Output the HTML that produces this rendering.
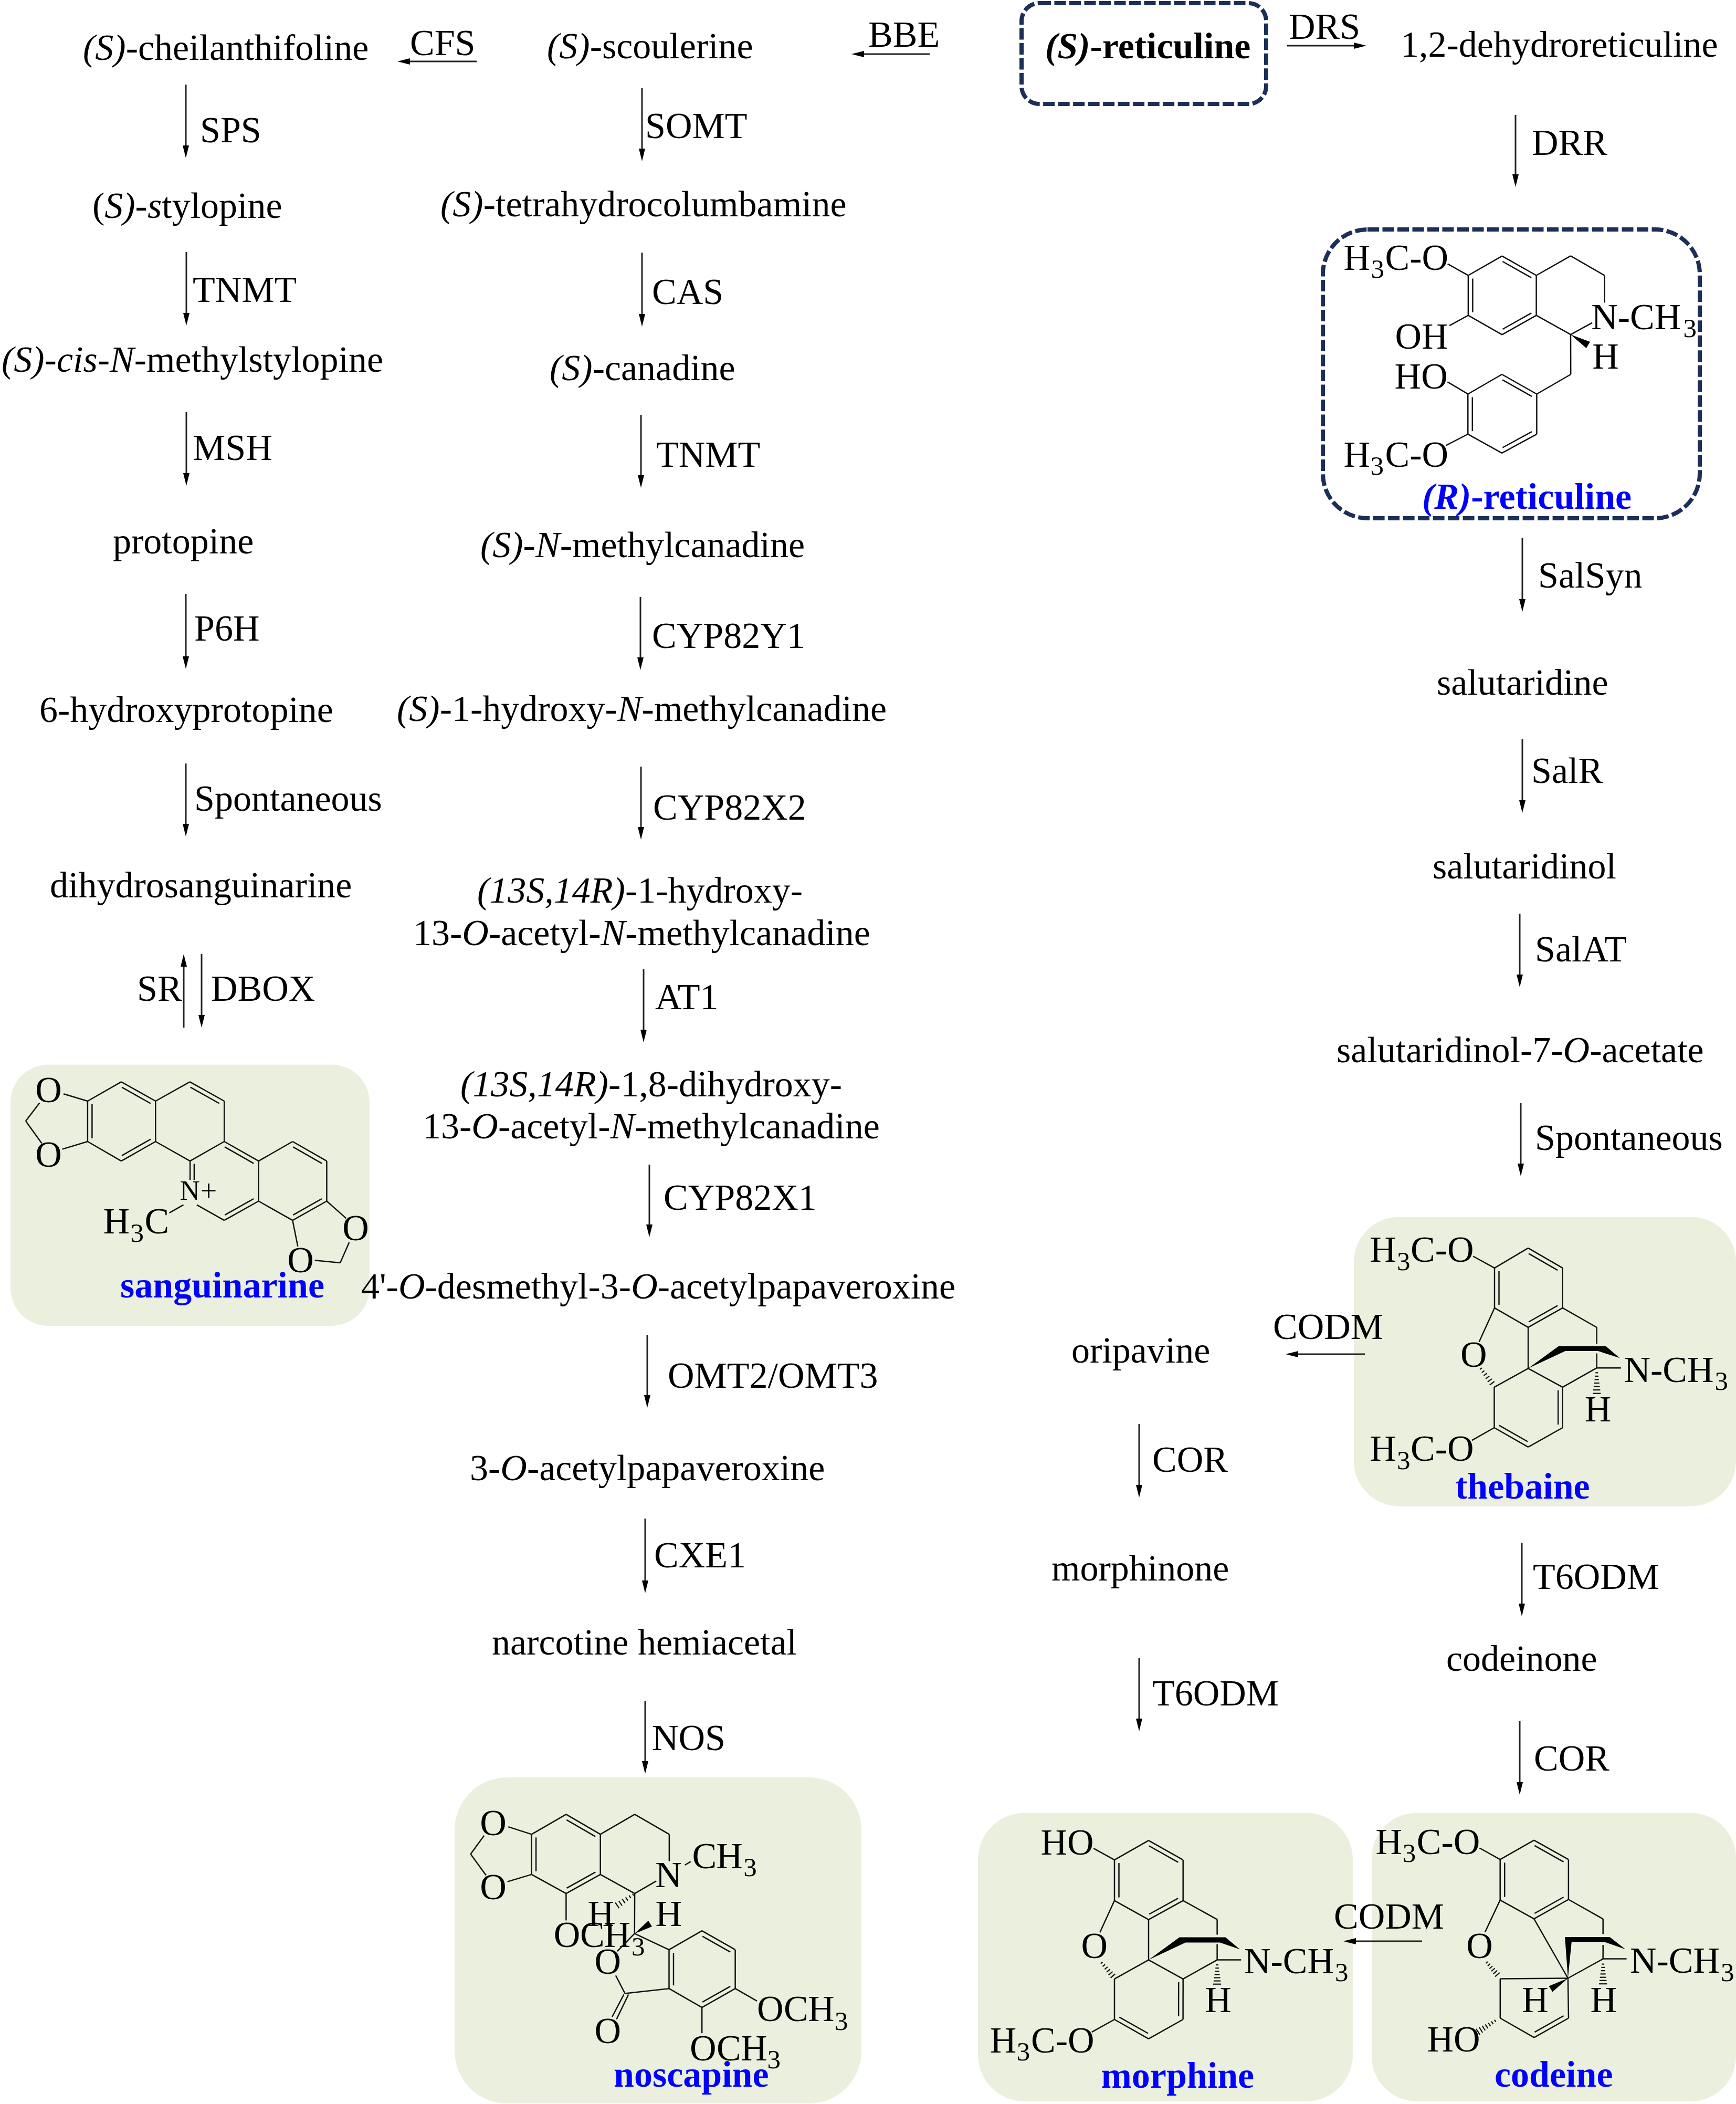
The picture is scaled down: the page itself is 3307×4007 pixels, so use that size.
<!DOCTYPE html>
<html><head><meta charset="utf-8"><style>
html,body{margin:0;padding:0;background:#fff;overflow:hidden}
svg{display:block}
text{font-family:"Liberation Serif",serif}
</style></head><body>
<svg width="3307" height="4007" viewBox="0 0 3307 4007">
<rect width="3307" height="4007" fill="#fff"/>
<rect x="20" y="2027.5" width="684" height="497.5" rx="72" ry="72" fill="#ebf0de"/>
<rect x="866" y="3385" width="775" height="621" rx="100" ry="100" fill="#ebf0de"/>
<rect x="2579" y="2317.5" width="728" height="551.0" rx="86" ry="86" fill="#ebf0de"/>
<rect x="1863" y="3452.5" width="714" height="549.5" rx="89" ry="89" fill="#ebf0de"/>
<rect x="2613" y="3452.5" width="694" height="549.5" rx="86" ry="86" fill="#ebf0de"/>
<rect x="1946" y="6" width="466" height="192" rx="34" ry="34" fill="none" stroke="#1b2f58" stroke-width="8" stroke-dasharray="22 6.5"/>
<rect x="2520" y="437" width="718" height="550" rx="85" ry="85" fill="none" stroke="#1b2f58" stroke-width="8" stroke-dasharray="22 6.5"/>
<text x="158.0" y="114.0" font-size="70" fill="#000"><tspan font-style="italic">(S)</tspan><tspan>-cheilanthifoline</tspan></text>
<line x1="354" y1="161" x2="354" y2="279" stroke="#222" stroke-width="3"/>
<path d="M348 277 L360 277 L354 301 Z" fill="#000"/>
<text x="381.0" y="271.0" font-size="70" fill="#000"><tspan>SPS</tspan></text>
<text x="176.0" y="415.0" font-size="70" fill="#000"><tspan>(</tspan><tspan font-style="italic">S)-s</tspan><tspan>tylopine</tspan></text>
<line x1="355" y1="480" x2="355" y2="598" stroke="#222" stroke-width="3"/>
<path d="M349 596 L361 596 L355 620 Z" fill="#000"/>
<text x="367.0" y="575.0" font-size="70" fill="#000"><tspan>TNMT</tspan></text>
<text x="3.0" y="708.0" font-size="70" fill="#000"><tspan font-style="italic">(S)-cis-N-</tspan><tspan>methylstylopine</tspan></text>
<line x1="355" y1="785" x2="355" y2="903" stroke="#222" stroke-width="3"/>
<path d="M349 901 L361 901 L355 925 Z" fill="#000"/>
<text x="367.0" y="876.0" font-size="70" fill="#000"><tspan>MSH</tspan></text>
<text x="215.0" y="1054.0" font-size="70" fill="#000"><tspan>protopine</tspan></text>
<line x1="354" y1="1131" x2="354" y2="1252" stroke="#222" stroke-width="3"/>
<path d="M348 1250 L360 1250 L354 1274 Z" fill="#000"/>
<text x="370.0" y="1220.0" font-size="70" fill="#000"><tspan>P6H</tspan></text>
<text x="75.0" y="1375.0" font-size="70" fill="#000"><tspan>6-hydroxyprotopine</tspan></text>
<line x1="354" y1="1454" x2="354" y2="1571" stroke="#222" stroke-width="3"/>
<path d="M348 1569 L360 1569 L354 1593 Z" fill="#000"/>
<text x="370.0" y="1544.0" font-size="70" fill="#000"><tspan>Spontaneous</tspan></text>
<text x="95.0" y="1709.0" font-size="70" fill="#000"><tspan>dihydrosanguinarine</tspan></text>
<line x1="350" y1="1839" x2="350" y2="1957" stroke="#222" stroke-width="3"/>
<path d="M344 1841 L356 1841 L350 1817 Z" fill="#000"/>
<line x1="384" y1="1817" x2="384" y2="1935" stroke="#222" stroke-width="3"/>
<path d="M378 1933 L390 1933 L384 1957 Z" fill="#000"/>
<text x="261.0" y="1906.0" font-size="70" fill="#000"><tspan>SR</tspan></text>
<text x="402.0" y="1906.0" font-size="70" fill="#000"><tspan>DBOX</tspan></text>
<line x1="779" y1="117" x2="908" y2="117" stroke="#222" stroke-width="3"/>
<path d="M781 111 L781 123 L757 117 Z" fill="#000"/>
<text x="781.0" y="105.0" font-size="70" fill="#000"><tspan>CFS</tspan></text>
<line x1="1644" y1="103" x2="1771" y2="103" stroke="#222" stroke-width="3"/>
<path d="M1646 97 L1646 109 L1622 103 Z" fill="#000"/>
<text x="1654.0" y="89.0" font-size="70" fill="#000"><tspan>BBE</tspan></text>
<line x1="2452" y1="87" x2="2581" y2="87" stroke="#222" stroke-width="3"/>
<path d="M2579 81 L2579 93 L2603 87 Z" fill="#000"/>
<text x="2455.0" y="74.0" font-size="70" fill="#000"><tspan>DRS</tspan></text>
<text x="1042.0" y="111.0" font-size="70" fill="#000"><tspan font-style="italic">(S)</tspan><tspan>-scoulerine</tspan></text>
<line x1="1223" y1="168" x2="1223" y2="285" stroke="#222" stroke-width="3"/>
<path d="M1217 283 L1229 283 L1223 307 Z" fill="#000"/>
<text x="1229.0" y="263.0" font-size="70" fill="#000"><tspan>SOMT</tspan></text>
<text x="839.0" y="412.0" font-size="70" fill="#000"><tspan font-style="italic">(S)</tspan><tspan>-tetrahydrocolumbamine</tspan></text>
<line x1="1223" y1="481" x2="1223" y2="600" stroke="#222" stroke-width="3"/>
<path d="M1217 598 L1229 598 L1223 622 Z" fill="#000"/>
<text x="1242.0" y="579.0" font-size="70" fill="#000"><tspan>CAS</tspan></text>
<text x="1047.0" y="724.0" font-size="70" fill="#000"><tspan font-style="italic">(S)</tspan><tspan>-canadine</tspan></text>
<line x1="1221" y1="790" x2="1221" y2="907" stroke="#222" stroke-width="3"/>
<path d="M1215 905 L1227 905 L1221 929 Z" fill="#000"/>
<text x="1250.0" y="889.0" font-size="70" fill="#000"><tspan>TNMT</tspan></text>
<text x="915.0" y="1061.0" font-size="70" fill="#000"><tspan font-style="italic">(S)-N</tspan><tspan>-methylcanadine</tspan></text>
<line x1="1220" y1="1137" x2="1220" y2="1254" stroke="#222" stroke-width="3"/>
<path d="M1214 1252 L1226 1252 L1220 1276 Z" fill="#000"/>
<text x="1242.0" y="1234.0" font-size="70" fill="#000"><tspan>CYP82Y1</tspan></text>
<text x="756.0" y="1373.0" font-size="70" fill="#000"><tspan font-style="italic">(S)</tspan><tspan>-1-hydroxy-</tspan><tspan font-style="italic">N</tspan><tspan>-methylcanadine</tspan></text>
<line x1="1221" y1="1460" x2="1221" y2="1577" stroke="#222" stroke-width="3"/>
<path d="M1215 1575 L1227 1575 L1221 1599 Z" fill="#000"/>
<text x="1244.0" y="1561.0" font-size="70" fill="#000"><tspan>CYP82X2</tspan></text>
<text x="909.0" y="1719.0" font-size="70" fill="#000"><tspan font-style="italic">(13S,14R)</tspan><tspan>-1-hydroxy-</tspan></text>
<text x="787.0" y="1800.0" font-size="70" fill="#000"><tspan>13-</tspan><tspan font-style="italic">O</tspan><tspan>-acetyl-</tspan><tspan font-style="italic">N</tspan><tspan>-methylcanadine</tspan></text>
<line x1="1226" y1="1846" x2="1226" y2="1963" stroke="#222" stroke-width="3"/>
<path d="M1220 1961 L1232 1961 L1226 1985 Z" fill="#000"/>
<text x="1248.0" y="1922.0" font-size="70" fill="#000"><tspan>AT1</tspan></text>
<text x="877.0" y="2088.0" font-size="70" fill="#000"><tspan font-style="italic">(13S,14R)</tspan><tspan>-1,8-dihydroxy-</tspan></text>
<text x="805.0" y="2168.0" font-size="70" fill="#000"><tspan>13-</tspan><tspan font-style="italic">O</tspan><tspan>-acetyl-</tspan><tspan font-style="italic">N</tspan><tspan>-methylcanadine</tspan></text>
<line x1="1237" y1="2218" x2="1237" y2="2334" stroke="#222" stroke-width="3"/>
<path d="M1231 2332 L1243 2332 L1237 2356 Z" fill="#000"/>
<text x="1264.0" y="2304.0" font-size="70" fill="#000"><tspan>CYP82X1</tspan></text>
<text x="688.0" y="2473.0" font-size="70" fill="#000"><tspan>4'-</tspan><tspan font-style="italic">O</tspan><tspan>-desmethyl-3-</tspan><tspan font-style="italic">O</tspan><tspan>-acetylpapaveroxine</tspan></text>
<line x1="1233" y1="2542" x2="1233" y2="2659" stroke="#222" stroke-width="3"/>
<path d="M1227 2657 L1239 2657 L1233 2681 Z" fill="#000"/>
<text x="1272.0" y="2643.0" font-size="70" fill="#000"><tspan>OMT2/OMT3</tspan></text>
<text x="895.0" y="2819.0" font-size="70" fill="#000"><tspan>3-</tspan><tspan font-style="italic">O</tspan><tspan>-acetylpapaveroxine</tspan></text>
<line x1="1229" y1="2892" x2="1229" y2="3012" stroke="#222" stroke-width="3"/>
<path d="M1223 3010 L1235 3010 L1229 3034 Z" fill="#000"/>
<text x="1246.0" y="2985.0" font-size="70" fill="#000"><tspan>CXE1</tspan></text>
<text x="937.0" y="3151.0" font-size="70" fill="#000"><tspan>narcotine hemiacetal</tspan></text>
<line x1="1229" y1="3240" x2="1229" y2="3356" stroke="#222" stroke-width="3"/>
<path d="M1223 3354 L1235 3354 L1229 3378 Z" fill="#000"/>
<text x="1242.0" y="3333.0" font-size="70" fill="#000"><tspan>NOS</tspan></text>
<text x="1991.0" y="111.0" font-size="70" fill="#000"><tspan font-style="italic" font-weight="bold">(S)</tspan><tspan font-weight="bold">-reticuline</tspan></text>
<text x="2668.0" y="108.0" font-size="70" fill="#000"><tspan>1,2-dehydroreticuline</tspan></text>
<line x1="2887" y1="219" x2="2887" y2="334" stroke="#222" stroke-width="3"/>
<path d="M2881 332 L2893 332 L2887 356 Z" fill="#000"/>
<text x="2918.0" y="295.0" font-size="70" fill="#000"><tspan>DRR</tspan></text>
<line x1="2900" y1="1024" x2="2900" y2="1143" stroke="#222" stroke-width="3"/>
<path d="M2894 1141 L2906 1141 L2900 1165 Z" fill="#000"/>
<text x="2930.0" y="1119.0" font-size="70" fill="#000"><tspan>SalSyn</tspan></text>
<text x="2737.0" y="1323.0" font-size="70" fill="#000"><tspan>salutaridine</tspan></text>
<line x1="2900" y1="1408" x2="2900" y2="1526" stroke="#222" stroke-width="3"/>
<path d="M2894 1524 L2906 1524 L2900 1548 Z" fill="#000"/>
<text x="2917.0" y="1491.0" font-size="70" fill="#000"><tspan>SalR</tspan></text>
<text x="2729.0" y="1673.0" font-size="70" fill="#000"><tspan>salutaridinol</tspan></text>
<line x1="2895" y1="1740" x2="2895" y2="1858" stroke="#222" stroke-width="3"/>
<path d="M2889 1856 L2901 1856 L2895 1880 Z" fill="#000"/>
<text x="2924.0" y="1831.0" font-size="70" fill="#000"><tspan>SalAT</tspan></text>
<text x="2546.0" y="2023.0" font-size="70" fill="#000"><tspan>salutaridinol-7-</tspan><tspan font-style="italic">O</tspan><tspan>-acetate</tspan></text>
<line x1="2897" y1="2101" x2="2897" y2="2218" stroke="#222" stroke-width="3"/>
<path d="M2891 2216 L2903 2216 L2897 2240 Z" fill="#000"/>
<text x="2924.0" y="2190.0" font-size="70" fill="#000"><tspan>Spontaneous</tspan></text>
<line x1="2471" y1="2579" x2="2600" y2="2579" stroke="#222" stroke-width="3"/>
<path d="M2473 2573 L2473 2585 L2449 2579 Z" fill="#000"/>
<text x="2425.0" y="2550.0" font-size="70" fill="#000"><tspan>CODM</tspan></text>
<text x="2041.0" y="2595.0" font-size="70" fill="#000"><tspan>oripavine</tspan></text>
<line x1="2170" y1="2712" x2="2170" y2="2830" stroke="#222" stroke-width="3"/>
<path d="M2164 2828 L2176 2828 L2170 2852 Z" fill="#000"/>
<text x="2195.0" y="2803.0" font-size="70" fill="#000"><tspan>COR</tspan></text>
<text x="2003.0" y="3010.0" font-size="70" fill="#000"><tspan>morphinone</tspan></text>
<line x1="2170" y1="3158" x2="2170" y2="3275" stroke="#222" stroke-width="3"/>
<path d="M2164 3273 L2176 3273 L2170 3297 Z" fill="#000"/>
<text x="2195.0" y="3248.0" font-size="70" fill="#000"><tspan>T6ODM</tspan></text>
<line x1="2899" y1="2938" x2="2899" y2="3056" stroke="#222" stroke-width="3"/>
<path d="M2893 3054 L2905 3054 L2899 3078 Z" fill="#000"/>
<text x="2920.0" y="3026.0" font-size="70" fill="#000"><tspan>T6ODM</tspan></text>
<text x="2755.0" y="3182.0" font-size="70" fill="#000"><tspan>codeinone</tspan></text>
<line x1="2895" y1="3278" x2="2895" y2="3396" stroke="#222" stroke-width="3"/>
<path d="M2889 3394 L2901 3394 L2895 3418 Z" fill="#000"/>
<text x="2922.0" y="3372.0" font-size="70" fill="#000"><tspan>COR</tspan></text>
<line x1="2581" y1="3697" x2="2709" y2="3697" stroke="#222" stroke-width="3"/>
<path d="M2583 3691 L2583 3703 L2559 3697 Z" fill="#000"/>
<text x="2541.0" y="3673.0" font-size="70" fill="#000"><tspan>CODM</tspan></text>
<text x="229.0" y="2471.0" font-size="70" fill="#0000ff"><tspan font-weight="bold">sanguinarine</tspan></text>
<text x="1169.0" y="3974.0" font-size="70" fill="#0000ff"><tspan font-weight="bold">noscapine</tspan></text>
<text x="2709.0" y="969.0" font-size="70" fill="#0000ff"><tspan font-style="italic" font-weight="bold">(R)</tspan><tspan font-weight="bold">-reticuline</tspan></text>
<text x="2772.0" y="2854.0" font-size="70" fill="#0000ff"><tspan font-weight="bold">thebaine</tspan></text>
<text x="2097.5" y="3976.0" font-size="70" fill="#0000ff"><tspan font-weight="bold">morphine</tspan></text>
<text x="2847.0" y="3974.0" font-size="70" fill="#0000ff"><tspan font-weight="bold">codeine</tspan></text>
<line x1="166.9" y1="2097.0" x2="231.0" y2="2060.4" stroke="#111" stroke-width="2.5" stroke-linecap="butt"/>
<line x1="231.0" y1="2060.4" x2="296.3" y2="2097.0" stroke="#111" stroke-width="2.5" stroke-linecap="butt"/>
<line x1="232.1" y1="2070.7" x2="286.9" y2="2101.5" stroke="#111" stroke-width="2.5" stroke-linecap="butt"/>
<line x1="296.3" y1="2097.0" x2="296.3" y2="2174.0" stroke="#111" stroke-width="2.5" stroke-linecap="butt"/>
<line x1="296.3" y1="2174.0" x2="231.0" y2="2211.2" stroke="#111" stroke-width="2.5" stroke-linecap="butt"/>
<line x1="286.9" y1="2169.6" x2="232.0" y2="2200.8" stroke="#111" stroke-width="2.5" stroke-linecap="butt"/>
<line x1="231.0" y1="2211.2" x2="166.9" y2="2174.0" stroke="#111" stroke-width="2.5" stroke-linecap="butt"/>
<line x1="166.9" y1="2174.0" x2="166.9" y2="2097.0" stroke="#111" stroke-width="2.5" stroke-linecap="butt"/>
<line x1="175.4" y1="2168.0" x2="175.4" y2="2103.0" stroke="#111" stroke-width="2.5" stroke-linecap="butt"/>
<line x1="296.3" y1="2097.0" x2="361.7" y2="2060.4" stroke="#111" stroke-width="2.5" stroke-linecap="butt"/>
<line x1="361.7" y1="2060.4" x2="427.2" y2="2097.0" stroke="#111" stroke-width="2.5" stroke-linecap="butt"/>
<line x1="362.8" y1="2070.7" x2="417.8" y2="2101.5" stroke="#111" stroke-width="2.5" stroke-linecap="butt"/>
<line x1="427.2" y1="2097.0" x2="427.2" y2="2174.0" stroke="#111" stroke-width="2.5" stroke-linecap="butt"/>
<line x1="296.3" y1="2174.0" x2="362.0" y2="2211.2" stroke="#111" stroke-width="2.5" stroke-linecap="butt"/>
<line x1="427.2" y1="2174.0" x2="362.0" y2="2211.2" stroke="#111" stroke-width="2.5" stroke-linecap="butt"/>
<line x1="427.2" y1="2174.0" x2="492.6" y2="2211.2" stroke="#111" stroke-width="2.5" stroke-linecap="butt"/>
<line x1="428.2" y1="2184.4" x2="483.2" y2="2215.6" stroke="#111" stroke-width="2.5" stroke-linecap="butt"/>
<line x1="492.6" y1="2211.2" x2="492.6" y2="2287.5" stroke="#111" stroke-width="2.5" stroke-linecap="butt"/>
<line x1="492.6" y1="2287.5" x2="427.2" y2="2324.2" stroke="#111" stroke-width="2.5" stroke-linecap="butt"/>
<line x1="483.2" y1="2283.0" x2="428.3" y2="2313.9" stroke="#111" stroke-width="2.5" stroke-linecap="butt"/>
<line x1="374.9" y1="2294.7" x2="427.2" y2="2324.2" stroke="#111" stroke-width="2.5" stroke-linecap="butt"/>
<line x1="362.1" y1="2211.3" x2="362.1" y2="2247.0" stroke="#111" stroke-width="2.5" stroke-linecap="butt"/>
<line x1="369.9" y1="2216.5" x2="369.9" y2="2247.0" stroke="#111" stroke-width="2.5" stroke-linecap="butt"/>
<line x1="492.6" y1="2211.2" x2="557.4" y2="2174.0" stroke="#111" stroke-width="2.5" stroke-linecap="butt"/>
<line x1="557.4" y1="2174.0" x2="622.4" y2="2211.2" stroke="#111" stroke-width="2.5" stroke-linecap="butt"/>
<line x1="558.4" y1="2184.4" x2="613.0" y2="2215.6" stroke="#111" stroke-width="2.5" stroke-linecap="butt"/>
<line x1="622.4" y1="2211.2" x2="622.4" y2="2287.5" stroke="#111" stroke-width="2.5" stroke-linecap="butt"/>
<line x1="622.4" y1="2287.5" x2="557.4" y2="2324.2" stroke="#111" stroke-width="2.5" stroke-linecap="butt"/>
<line x1="613.0" y1="2283.0" x2="558.4" y2="2313.8" stroke="#111" stroke-width="2.5" stroke-linecap="butt"/>
<line x1="557.4" y1="2324.2" x2="492.6" y2="2287.5" stroke="#111" stroke-width="2.5" stroke-linecap="butt"/>
<line x1="622.4" y1="2287.5" x2="659.5" y2="2320.4" stroke="#111" stroke-width="2.5" stroke-linecap="butt"/>
<line x1="557.4" y1="2324.2" x2="567.3" y2="2373.7" stroke="#111" stroke-width="2.5" stroke-linecap="butt"/>
<line x1="648.1" y1="2405.0" x2="599.6" y2="2400.3" stroke="#111" stroke-width="2.5" stroke-linecap="butt"/>
<line x1="648.1" y1="2405.0" x2="665.2" y2="2366.0" stroke="#111" stroke-width="2.5" stroke-linecap="butt"/>
<line x1="121.1" y1="2083.2" x2="166.9" y2="2097.0" stroke="#111" stroke-width="2.5" stroke-linecap="butt"/>
<line x1="118.5" y1="2188.6" x2="166.9" y2="2174.0" stroke="#111" stroke-width="2.5" stroke-linecap="butt"/>
<line x1="49.0" y1="2135.0" x2="75.3" y2="2100.5" stroke="#111" stroke-width="2.5" stroke-linecap="butt"/>
<line x1="49.0" y1="2135.0" x2="79.6" y2="2177.4" stroke="#111" stroke-width="2.5" stroke-linecap="butt"/>
<line x1="349.4" y1="2294.7" x2="322.6" y2="2309.8" stroke="#111" stroke-width="2.5" stroke-linecap="butt"/>
<text x="67.3" y="2099.3" font-size="70" fill="#000">O</text>
<text x="67.3" y="2221.9" font-size="70" fill="#000">O</text>
<text x="652.2" y="2362.1" font-size="70" fill="#000">O</text>
<text x="547.2" y="2423.1" font-size="70" fill="#000">O</text>
<text x="342.6" y="2285.3" font-size="53" fill="#000"><tspan>N</tspan></text>
<text x="381.7" y="2286.8" font-size="56" fill="#000"><tspan>+</tspan></text>
<text x="196.6" y="2349.0" font-size="70" fill="#000"><tspan>H</tspan></text>
<text x="248.5" y="2365.1" font-size="51" fill="#000"><tspan>3</tspan></text>
<text x="275.4" y="2349.0" font-size="70" fill="#000"><tspan>C</tspan></text>
<line x1="1012.6" y1="3493.4" x2="1078.4" y2="3455.4" stroke="#111" stroke-width="2.5" stroke-linecap="butt"/>
<line x1="1078.4" y1="3455.4" x2="1143.7" y2="3493.4" stroke="#111" stroke-width="2.5" stroke-linecap="butt"/>
<line x1="1079.3" y1="3465.8" x2="1134.2" y2="3497.7" stroke="#111" stroke-width="2.5" stroke-linecap="butt"/>
<line x1="1143.7" y1="3493.4" x2="1143.7" y2="3569.9" stroke="#111" stroke-width="2.5" stroke-linecap="butt"/>
<line x1="1143.7" y1="3569.9" x2="1078.4" y2="3606.1" stroke="#111" stroke-width="2.5" stroke-linecap="butt"/>
<line x1="1134.3" y1="3565.4" x2="1079.5" y2="3595.8" stroke="#111" stroke-width="2.5" stroke-linecap="butt"/>
<line x1="1078.4" y1="3606.1" x2="1012.6" y2="3569.9" stroke="#111" stroke-width="2.5" stroke-linecap="butt"/>
<line x1="1012.6" y1="3569.9" x2="1012.6" y2="3493.4" stroke="#111" stroke-width="2.5" stroke-linecap="butt"/>
<line x1="1021.1" y1="3563.9" x2="1021.1" y2="3499.4" stroke="#111" stroke-width="2.5" stroke-linecap="butt"/>
<line x1="1143.7" y1="3493.4" x2="1209.1" y2="3455.4" stroke="#111" stroke-width="2.5" stroke-linecap="butt"/>
<line x1="1209.1" y1="3455.4" x2="1274.9" y2="3493.4" stroke="#111" stroke-width="2.5" stroke-linecap="butt"/>
<line x1="1274.9" y1="3493.4" x2="1274.9" y2="3544.4" stroke="#111" stroke-width="2.5" stroke-linecap="butt"/>
<line x1="1209.1" y1="3606.1" x2="1250.1" y2="3582.4" stroke="#111" stroke-width="2.5" stroke-linecap="butt"/>
<line x1="1143.7" y1="3569.9" x2="1209.1" y2="3606.1" stroke="#111" stroke-width="2.5" stroke-linecap="butt"/>
<line x1="968.3" y1="3479.1" x2="1012.6" y2="3493.4" stroke="#111" stroke-width="2.5" stroke-linecap="butt"/>
<line x1="966.6" y1="3583.6" x2="1012.6" y2="3569.9" stroke="#111" stroke-width="2.5" stroke-linecap="butt"/>
<line x1="896.5" y1="3531.1" x2="922.3" y2="3495.8" stroke="#111" stroke-width="2.5" stroke-linecap="butt"/>
<line x1="896.5" y1="3531.1" x2="926.0" y2="3571.5" stroke="#111" stroke-width="2.5" stroke-linecap="butt"/>
<text x="914.3" y="3494.7" font-size="70" fill="#000">O</text>
<text x="914.3" y="3617.0" font-size="70" fill="#000">O</text>
<text x="1248.2" y="3594.4" font-size="70" fill="#000"><tspan>N</tspan></text>
<line x1="1304.6" y1="3552.0" x2="1315.8" y2="3545.4" stroke="#111" stroke-width="2.5" stroke-linecap="butt"/>
<text x="1318.6" y="3557.6" font-size="70" fill="#000"><tspan>C</tspan></text>
<text x="1364.2" y="3557.6" font-size="70" fill="#000"><tspan>H</tspan></text>
<text x="1416.2" y="3573.0" font-size="51" fill="#000"><tspan>3</tspan></text>
<line x1="1078.4" y1="3606.1" x2="1078.4" y2="3657.4" stroke="#111" stroke-width="2.5" stroke-linecap="butt"/>
<text x="1054.7" y="3707.6" font-size="70" fill="#000"><tspan>O</tspan></text>
<text x="1105.0" y="3707.6" font-size="70" fill="#000"><tspan>C</tspan></text>
<text x="1150.5" y="3707.6" font-size="70" fill="#000"><tspan>H</tspan></text>
<text x="1203.0" y="3723.5" font-size="51" fill="#000"><tspan>3</tspan></text>
<line x1="1205.0" y1="3606.5" x2="1207.2" y2="3609.8" stroke="#111" stroke-width="2.2"/>
<line x1="1198.4" y1="3609.9" x2="1201.6" y2="3614.7" stroke="#111" stroke-width="2.2"/>
<line x1="1191.8" y1="3613.3" x2="1196.1" y2="3619.5" stroke="#111" stroke-width="2.2"/>
<line x1="1185.3" y1="3616.6" x2="1190.6" y2="3624.4" stroke="#111" stroke-width="2.2"/>
<line x1="1178.7" y1="3620.0" x2="1185.0" y2="3629.3" stroke="#111" stroke-width="2.2"/>
<line x1="1172.1" y1="3623.3" x2="1179.5" y2="3634.2" stroke="#111" stroke-width="2.2"/>
<text x="1119.5" y="3668.0" font-size="70" fill="#000"><tspan>H</tspan></text>
<line x1="1209.1" y1="3606.1" x2="1208.8" y2="3682.4" stroke="#111" stroke-width="2.5" stroke-linecap="butt"/>
<text x="1248.5" y="3668.0" font-size="70" fill="#000"><tspan>H</tspan></text>
<path d="M1208.8 3682.4 L1242.0 3669.0 L1235.0 3658.0 Z" fill="#000"/>
<line x1="1208.8" y1="3682.4" x2="1274.5" y2="3713.2" stroke="#111" stroke-width="2.5" stroke-linecap="butt"/>
<line x1="1274.5" y1="3713.2" x2="1274.5" y2="3787.2" stroke="#111" stroke-width="2.5" stroke-linecap="butt"/>
<line x1="1283.0" y1="3719.2" x2="1283.0" y2="3781.2" stroke="#111" stroke-width="2.5" stroke-linecap="butt"/>
<line x1="1274.5" y1="3713.2" x2="1337.2" y2="3677.2" stroke="#111" stroke-width="2.5" stroke-linecap="butt"/>
<line x1="1337.2" y1="3677.2" x2="1400.6" y2="3713.2" stroke="#111" stroke-width="2.5" stroke-linecap="butt"/>
<line x1="1338.2" y1="3687.6" x2="1391.2" y2="3717.6" stroke="#111" stroke-width="2.5" stroke-linecap="butt"/>
<line x1="1400.6" y1="3713.2" x2="1400.6" y2="3787.2" stroke="#111" stroke-width="2.5" stroke-linecap="butt"/>
<line x1="1400.6" y1="3787.2" x2="1337.2" y2="3823.2" stroke="#111" stroke-width="2.5" stroke-linecap="butt"/>
<line x1="1391.2" y1="3782.8" x2="1338.2" y2="3812.8" stroke="#111" stroke-width="2.5" stroke-linecap="butt"/>
<line x1="1337.2" y1="3823.2" x2="1274.5" y2="3787.2" stroke="#111" stroke-width="2.5" stroke-linecap="butt"/>
<line x1="1208.8" y1="3682.4" x2="1176.0" y2="3716.1" stroke="#111" stroke-width="2.5" stroke-linecap="butt"/>
<text x="1132.6" y="3759.2" font-size="70" fill="#000">O</text>
<line x1="1172.9" y1="3762.2" x2="1190.5" y2="3796.4" stroke="#111" stroke-width="2.5" stroke-linecap="butt"/>
<line x1="1190.5" y1="3796.4" x2="1274.5" y2="3787.2" stroke="#111" stroke-width="2.5" stroke-linecap="butt"/>
<line x1="1188.4" y1="3798.5" x2="1166.1" y2="3841.0" stroke="#111" stroke-width="2.5" stroke-linecap="butt"/>
<line x1="1197.2" y1="3798.5" x2="1174.4" y2="3845.7" stroke="#111" stroke-width="2.5" stroke-linecap="butt"/>
<text x="1132.6" y="3890.9" font-size="70" fill="#000">O</text>
<line x1="1400.6" y1="3787.2" x2="1442.0" y2="3810.8" stroke="#111" stroke-width="2.5" stroke-linecap="butt"/>
<text x="1442.0" y="3849.0" font-size="70" fill="#000"><tspan>O</tspan></text>
<text x="1493.0" y="3849.0" font-size="70" fill="#000"><tspan>C</tspan></text>
<text x="1539.0" y="3849.0" font-size="70" fill="#000"><tspan>H</tspan></text>
<text x="1590.0" y="3865.5" font-size="51" fill="#000"><tspan>3</tspan></text>
<line x1="1337.2" y1="3823.2" x2="1337.2" y2="3872.2" stroke="#111" stroke-width="2.5" stroke-linecap="butt"/>
<text x="1314.1" y="3924.0" font-size="70" fill="#000"><tspan>O</tspan></text>
<text x="1365.0" y="3924.0" font-size="70" fill="#000"><tspan>C</tspan></text>
<text x="1411.0" y="3924.0" font-size="70" fill="#000"><tspan>H</tspan></text>
<text x="1461.5" y="3939.1" font-size="51" fill="#000"><tspan>3</tspan></text>
<line x1="2847.0" y1="2414.9" x2="2911.1" y2="2376.9" stroke="#111" stroke-width="2.5" stroke-linecap="butt"/>
<line x1="2911.1" y1="2376.9" x2="2976.7" y2="2414.9" stroke="#111" stroke-width="2.5" stroke-linecap="butt"/>
<line x1="2912.0" y1="2387.3" x2="2967.2" y2="2419.2" stroke="#111" stroke-width="2.5" stroke-linecap="butt"/>
<line x1="2976.7" y1="2414.9" x2="2976.7" y2="2490.9" stroke="#111" stroke-width="2.5" stroke-linecap="butt"/>
<line x1="2976.7" y1="2490.9" x2="2911.1" y2="2527.8" stroke="#111" stroke-width="2.5" stroke-linecap="butt"/>
<line x1="2967.3" y1="2486.4" x2="2912.2" y2="2517.5" stroke="#111" stroke-width="2.5" stroke-linecap="butt"/>
<line x1="2911.1" y1="2527.8" x2="2847.0" y2="2490.9" stroke="#111" stroke-width="2.5" stroke-linecap="butt"/>
<line x1="2847.0" y1="2490.9" x2="2847.0" y2="2414.9" stroke="#111" stroke-width="2.5" stroke-linecap="butt"/>
<line x1="2855.5" y1="2484.9" x2="2855.5" y2="2420.9" stroke="#111" stroke-width="2.5" stroke-linecap="butt"/>
<text x="2609.2" y="2403.4" font-size="70" fill="#000"><tspan>H</tspan></text>
<text x="2661.0" y="2419.0" font-size="51" fill="#000"><tspan>3</tspan></text>
<text x="2687.1" y="2403.4" font-size="70" fill="#000"><tspan>C-O</tspan></text>
<line x1="2806.2" y1="2392.5" x2="2847.0" y2="2414.9" stroke="#111" stroke-width="2.5" stroke-linecap="butt"/>
<line x1="2847.0" y1="2490.9" x2="2817.7" y2="2555.4" stroke="#111" stroke-width="2.5" stroke-linecap="butt"/>
<text x="2782.1" y="2602.8" font-size="70" fill="#000">O</text>
<line x1="2911.1" y1="2527.8" x2="2911.1" y2="2606.1" stroke="#111" stroke-width="2.5" stroke-linecap="butt"/>
<line x1="2976.7" y1="2490.9" x2="3041.7" y2="2528.0" stroke="#111" stroke-width="2.5" stroke-linecap="butt"/>
<line x1="3041.7" y1="2528.0" x2="3041.7" y2="2559.0" stroke="#111" stroke-width="2.5" stroke-linecap="butt"/>
<line x1="3041.7" y1="2577.5" x2="3041.7" y2="2605.2" stroke="#111" stroke-width="2.5" stroke-linecap="butt"/>
<line x1="2819.1" y1="2608.0" x2="2822.9" y2="2605.2" stroke="#111" stroke-width="2.2"/>
<line x1="2822.8" y1="2614.0" x2="2827.6" y2="2610.3" stroke="#111" stroke-width="2.2"/>
<line x1="2826.5" y1="2619.9" x2="2832.4" y2="2615.5" stroke="#111" stroke-width="2.2"/>
<line x1="2830.2" y1="2625.9" x2="2837.1" y2="2620.7" stroke="#111" stroke-width="2.2"/>
<line x1="2833.9" y1="2631.9" x2="2841.9" y2="2625.8" stroke="#111" stroke-width="2.2"/>
<line x1="2837.6" y1="2637.8" x2="2846.6" y2="2631.0" stroke="#111" stroke-width="2.2"/>
<line x1="2911.1" y1="2606.1" x2="2846.5" y2="2641.8" stroke="#111" stroke-width="2.5" stroke-linecap="butt"/>
<line x1="2846.5" y1="2641.8" x2="2846.5" y2="2719.0" stroke="#111" stroke-width="2.5" stroke-linecap="butt"/>
<line x1="2846.5" y1="2719.0" x2="2911.1" y2="2755.9" stroke="#111" stroke-width="2.5" stroke-linecap="butt"/>
<line x1="2855.9" y1="2714.6" x2="2910.1" y2="2745.5" stroke="#111" stroke-width="2.5" stroke-linecap="butt"/>
<line x1="2911.1" y1="2755.9" x2="2976.7" y2="2719.0" stroke="#111" stroke-width="2.5" stroke-linecap="butt"/>
<line x1="2976.7" y1="2719.0" x2="2976.7" y2="2641.8" stroke="#111" stroke-width="2.5" stroke-linecap="butt"/>
<line x1="2968.2" y1="2713.0" x2="2968.2" y2="2647.8" stroke="#111" stroke-width="2.5" stroke-linecap="butt"/>
<line x1="2976.7" y1="2641.8" x2="2911.1" y2="2606.1" stroke="#111" stroke-width="2.5" stroke-linecap="butt"/>
<line x1="2976.7" y1="2641.8" x2="3041.7" y2="2605.2" stroke="#111" stroke-width="2.5" stroke-linecap="butt"/>
<line x1="3041.7" y1="2605.2" x2="3087.8" y2="2605.2" stroke="#111" stroke-width="2.5" stroke-linecap="butt"/>
<line x1="3039.3" y1="2614.3" x2="3044.1" y2="2614.3" stroke="#111" stroke-width="2.2"/>
<line x1="3038.4" y1="2620.9" x2="3045.0" y2="2620.9" stroke="#111" stroke-width="2.2"/>
<line x1="3037.6" y1="2627.4" x2="3045.8" y2="2627.4" stroke="#111" stroke-width="2.2"/>
<line x1="3036.7" y1="2634.0" x2="3046.7" y2="2634.0" stroke="#111" stroke-width="2.2"/>
<line x1="3035.8" y1="2640.6" x2="3047.6" y2="2640.6" stroke="#111" stroke-width="2.2"/>
<line x1="3035.0" y1="2647.1" x2="3048.4" y2="2647.1" stroke="#111" stroke-width="2.2"/>
<line x1="3034.1" y1="2653.7" x2="3049.3" y2="2653.7" stroke="#111" stroke-width="2.2"/>
<text x="3018.7" y="2706.5" font-size="70" fill="#000"><tspan>H</tspan></text>
<path d="M2911.1 2606.1 L2969.1 2563.7 L3059.0 2563.7 L3085.5 2586.3 L3044.0 2572.9 L2981.8 2572.9 Z" fill="#000"/>
<text x="3093.5" y="2631.7" font-size="70" fill="#000"><tspan>N-CH</tspan></text>
<text x="3266.4" y="2647.3" font-size="51" fill="#000"><tspan>3</tspan></text>
<text x="2609.2" y="2782.4" font-size="70" fill="#000"><tspan>H</tspan></text>
<text x="2661.0" y="2798.0" font-size="51" fill="#000"><tspan>3</tspan></text>
<text x="2687.1" y="2782.4" font-size="70" fill="#000"><tspan>C-O</tspan></text>
<line x1="2846.5" y1="2719.0" x2="2803.9" y2="2743.2" stroke="#111" stroke-width="2.5" stroke-linecap="butt"/>
<line x1="2123.0" y1="3542.2" x2="2188.0" y2="3505.1" stroke="#111" stroke-width="2.5" stroke-linecap="butt"/>
<line x1="2188.0" y1="3505.1" x2="2253.7" y2="3542.2" stroke="#111" stroke-width="2.5" stroke-linecap="butt"/>
<line x1="2189.0" y1="3515.5" x2="2244.3" y2="3546.7" stroke="#111" stroke-width="2.5" stroke-linecap="butt"/>
<line x1="2253.7" y1="3542.2" x2="2253.7" y2="3619.6" stroke="#111" stroke-width="2.5" stroke-linecap="butt"/>
<line x1="2253.7" y1="3619.6" x2="2188.0" y2="3655.8" stroke="#111" stroke-width="2.5" stroke-linecap="butt"/>
<line x1="2244.3" y1="3615.1" x2="2189.2" y2="3645.5" stroke="#111" stroke-width="2.5" stroke-linecap="butt"/>
<line x1="2188.0" y1="3655.8" x2="2123.0" y2="3619.6" stroke="#111" stroke-width="2.5" stroke-linecap="butt"/>
<line x1="2123.0" y1="3619.6" x2="2123.0" y2="3542.2" stroke="#111" stroke-width="2.5" stroke-linecap="butt"/>
<line x1="2131.5" y1="3613.6" x2="2131.5" y2="3548.2" stroke="#111" stroke-width="2.5" stroke-linecap="butt"/>
<text x="1982.4" y="3532.2" font-size="70" fill="#000"><tspan>HO</tspan></text>
<line x1="2083.2" y1="3520.1" x2="2123.0" y2="3542.2" stroke="#111" stroke-width="2.5" stroke-linecap="butt"/>
<line x1="2123.0" y1="3619.6" x2="2095.3" y2="3680.3" stroke="#111" stroke-width="2.5" stroke-linecap="butt"/>
<text x="2059.4" y="3729.1" font-size="70" fill="#000">O</text>
<line x1="2188.0" y1="3655.8" x2="2188.0" y2="3732.6" stroke="#111" stroke-width="2.5" stroke-linecap="butt"/>
<line x1="2253.7" y1="3619.6" x2="2319.1" y2="3655.8" stroke="#111" stroke-width="2.5" stroke-linecap="butt"/>
<line x1="2318.6" y1="3655.8" x2="2318.6" y2="3684.6" stroke="#111" stroke-width="2.5" stroke-linecap="butt"/>
<line x1="2318.6" y1="3702.7" x2="2318.6" y2="3732.6" stroke="#111" stroke-width="2.5" stroke-linecap="butt"/>
<line x1="2096.8" y1="3739.7" x2="2100.3" y2="3736.7" stroke="#111" stroke-width="2.2"/>
<line x1="2100.5" y1="3745.1" x2="2105.1" y2="3741.2" stroke="#111" stroke-width="2.2"/>
<line x1="2104.3" y1="3750.5" x2="2109.9" y2="3745.8" stroke="#111" stroke-width="2.2"/>
<line x1="2108.0" y1="3756.0" x2="2114.6" y2="3750.3" stroke="#111" stroke-width="2.2"/>
<line x1="2111.8" y1="3761.4" x2="2119.4" y2="3754.9" stroke="#111" stroke-width="2.2"/>
<line x1="2115.6" y1="3766.8" x2="2124.2" y2="3759.4" stroke="#111" stroke-width="2.2"/>
<line x1="2188.0" y1="3732.6" x2="2123.0" y2="3768.8" stroke="#111" stroke-width="2.5" stroke-linecap="butt"/>
<line x1="2123.0" y1="3768.8" x2="2123.0" y2="3846.0" stroke="#111" stroke-width="2.5" stroke-linecap="butt"/>
<line x1="2123.0" y1="3846.0" x2="2188.0" y2="3882.9" stroke="#111" stroke-width="2.5" stroke-linecap="butt"/>
<line x1="2132.4" y1="3841.6" x2="2187.0" y2="3872.5" stroke="#111" stroke-width="2.5" stroke-linecap="butt"/>
<line x1="2188.0" y1="3882.9" x2="2253.6" y2="3846.0" stroke="#111" stroke-width="2.5" stroke-linecap="butt"/>
<line x1="2253.6" y1="3846.0" x2="2253.7" y2="3768.8" stroke="#111" stroke-width="2.5" stroke-linecap="butt"/>
<line x1="2245.1" y1="3840.0" x2="2245.2" y2="3774.8" stroke="#111" stroke-width="2.5" stroke-linecap="butt"/>
<line x1="2253.7" y1="3768.8" x2="2188.0" y2="3732.6" stroke="#111" stroke-width="2.5" stroke-linecap="butt"/>
<line x1="2253.7" y1="3768.8" x2="2318.6" y2="3732.6" stroke="#111" stroke-width="2.5" stroke-linecap="butt"/>
<line x1="2318.6" y1="3732.6" x2="2364.3" y2="3732.6" stroke="#111" stroke-width="2.5" stroke-linecap="butt"/>
<line x1="2316.2" y1="3742.1" x2="2321.0" y2="3742.1" stroke="#111" stroke-width="2.2"/>
<line x1="2315.3" y1="3748.2" x2="2321.9" y2="3748.2" stroke="#111" stroke-width="2.2"/>
<line x1="2314.5" y1="3754.3" x2="2322.7" y2="3754.3" stroke="#111" stroke-width="2.2"/>
<line x1="2313.6" y1="3760.4" x2="2323.6" y2="3760.4" stroke="#111" stroke-width="2.2"/>
<line x1="2312.7" y1="3766.5" x2="2324.5" y2="3766.5" stroke="#111" stroke-width="2.2"/>
<line x1="2311.9" y1="3772.6" x2="2325.3" y2="3772.6" stroke="#111" stroke-width="2.2"/>
<line x1="2311.0" y1="3778.7" x2="2326.2" y2="3778.7" stroke="#111" stroke-width="2.2"/>
<text x="2295.2" y="3832.4" font-size="70" fill="#000"><tspan>H</tspan></text>
<path d="M2188.0 3732.6 L2246.8 3689.5 L2334.4 3689.5 L2362.0 3712.6 L2324.0 3699.4 L2258.3 3699.4 Z" fill="#000"/>
<text x="2370.0" y="3757.5" font-size="70" fill="#000"><tspan>N-CH</tspan></text>
<text x="2542.9" y="3773.1" font-size="51" fill="#000"><tspan>3</tspan></text>
<text x="1885.7" y="3909.4" font-size="70" fill="#000"><tspan>H</tspan></text>
<text x="1936.8" y="3923.8" font-size="51" fill="#000"><tspan>3</tspan></text>
<text x="1964.0" y="3909.4" font-size="70" fill="#000"><tspan>C-O</tspan></text>
<line x1="2123.0" y1="3846.0" x2="2079.7" y2="3870.2" stroke="#111" stroke-width="2.5" stroke-linecap="butt"/>
<line x1="2857.7" y1="3541.4" x2="2922.2" y2="3504.6" stroke="#111" stroke-width="2.5" stroke-linecap="butt"/>
<line x1="2922.2" y1="3504.6" x2="2987.9" y2="3541.4" stroke="#111" stroke-width="2.5" stroke-linecap="butt"/>
<line x1="2923.3" y1="3514.9" x2="2978.5" y2="3545.9" stroke="#111" stroke-width="2.5" stroke-linecap="butt"/>
<line x1="2987.9" y1="3541.4" x2="2987.9" y2="3617.5" stroke="#111" stroke-width="2.5" stroke-linecap="butt"/>
<line x1="2987.9" y1="3617.5" x2="2922.2" y2="3654.3" stroke="#111" stroke-width="2.5" stroke-linecap="butt"/>
<line x1="2978.5" y1="3613.0" x2="2923.3" y2="3644.0" stroke="#111" stroke-width="2.5" stroke-linecap="butt"/>
<line x1="2922.2" y1="3654.3" x2="2857.7" y2="3618.6" stroke="#111" stroke-width="2.5" stroke-linecap="butt"/>
<line x1="2857.7" y1="3618.6" x2="2857.7" y2="3541.4" stroke="#111" stroke-width="2.5" stroke-linecap="butt"/>
<line x1="2866.2" y1="3612.6" x2="2866.2" y2="3547.4" stroke="#111" stroke-width="2.5" stroke-linecap="butt"/>
<text x="2620.4" y="3531.0" font-size="70" fill="#000"><tspan>H</tspan></text>
<text x="2671.8" y="3545.5" font-size="51" fill="#000"><tspan>3</tspan></text>
<text x="2698.7" y="3531.0" font-size="70" fill="#000"><tspan>C-O</tspan></text>
<line x1="2818.5" y1="3519.5" x2="2857.7" y2="3541.4" stroke="#111" stroke-width="2.5" stroke-linecap="butt"/>
<line x1="2857.7" y1="3618.6" x2="2828.9" y2="3679.7" stroke="#111" stroke-width="2.5" stroke-linecap="butt"/>
<text x="2793.2" y="3728.6" font-size="70" fill="#000">O</text>
<line x1="2922.2" y1="3654.3" x2="2986.9" y2="3767.5" stroke="#111" stroke-width="2.5" stroke-linecap="butt"/>
<line x1="2987.9" y1="3617.5" x2="3053.7" y2="3654.6" stroke="#111" stroke-width="2.5" stroke-linecap="butt"/>
<line x1="3053.7" y1="3654.6" x2="3053.7" y2="3683.4" stroke="#111" stroke-width="2.5" stroke-linecap="butt"/>
<line x1="3053.7" y1="3704.0" x2="3053.7" y2="3730.6" stroke="#111" stroke-width="2.5" stroke-linecap="butt"/>
<line x1="3053.7" y1="3730.6" x2="3098.6" y2="3730.6" stroke="#111" stroke-width="2.5" stroke-linecap="butt"/>
<line x1="3051.3" y1="3740.6" x2="3056.1" y2="3740.6" stroke="#111" stroke-width="2.2"/>
<line x1="3050.4" y1="3746.9" x2="3057.0" y2="3746.9" stroke="#111" stroke-width="2.2"/>
<line x1="3049.6" y1="3753.1" x2="3057.8" y2="3753.1" stroke="#111" stroke-width="2.2"/>
<line x1="3048.7" y1="3759.4" x2="3058.7" y2="3759.4" stroke="#111" stroke-width="2.2"/>
<line x1="3047.8" y1="3765.7" x2="3059.6" y2="3765.7" stroke="#111" stroke-width="2.2"/>
<line x1="3047.0" y1="3771.9" x2="3060.4" y2="3771.9" stroke="#111" stroke-width="2.2"/>
<line x1="3046.1" y1="3778.2" x2="3061.3" y2="3778.2" stroke="#111" stroke-width="2.2"/>
<text x="3029.5" y="3832.0" font-size="70" fill="#000"><tspan>H</tspan></text>
<line x1="2986.9" y1="3767.5" x2="3053.7" y2="3730.6" stroke="#111" stroke-width="2.5" stroke-linecap="butt"/>
<line x1="2857.8" y1="3768.6" x2="2986.9" y2="3767.5" stroke="#111" stroke-width="2.5" stroke-linecap="butt"/>
<line x1="2830.5" y1="3739.0" x2="2834.0" y2="3736.0" stroke="#111" stroke-width="2.2"/>
<line x1="2834.0" y1="3744.1" x2="2838.5" y2="3740.2" stroke="#111" stroke-width="2.2"/>
<line x1="2837.5" y1="3749.2" x2="2843.0" y2="3744.3" stroke="#111" stroke-width="2.2"/>
<line x1="2841.1" y1="3754.2" x2="2847.6" y2="3748.5" stroke="#111" stroke-width="2.2"/>
<line x1="2844.6" y1="3759.3" x2="2852.1" y2="3752.7" stroke="#111" stroke-width="2.2"/>
<line x1="2848.1" y1="3764.3" x2="2856.7" y2="3756.9" stroke="#111" stroke-width="2.2"/>
<line x1="2857.8" y1="3768.6" x2="2857.8" y2="3843.5" stroke="#111" stroke-width="2.5" stroke-linecap="butt"/>
<line x1="2857.8" y1="3843.5" x2="2922.4" y2="3880.4" stroke="#111" stroke-width="2.5" stroke-linecap="butt"/>
<line x1="2922.4" y1="3880.4" x2="2988.0" y2="3843.5" stroke="#111" stroke-width="2.5" stroke-linecap="butt"/>
<line x1="2923.5" y1="3870.1" x2="2978.6" y2="3839.0" stroke="#111" stroke-width="2.5" stroke-linecap="butt"/>
<line x1="2988.0" y1="3843.5" x2="2986.9" y2="3767.5" stroke="#111" stroke-width="2.5" stroke-linecap="butt"/>
<path d="M2986.9 3767.5 L2950.6 3782.5 L2957.4 3793.5 Z" fill="#000"/>
<text x="2899.3" y="3832.0" font-size="70" fill="#000"><tspan>H</tspan></text>
<line x1="2846.9" y1="3846.7" x2="2849.5" y2="3850.7" stroke="#111" stroke-width="2.2"/>
<line x1="2841.1" y1="3849.6" x2="2844.4" y2="3854.8" stroke="#111" stroke-width="2.2"/>
<line x1="2835.3" y1="3852.4" x2="2839.4" y2="3858.8" stroke="#111" stroke-width="2.2"/>
<line x1="2829.5" y1="3855.3" x2="2834.3" y2="3862.9" stroke="#111" stroke-width="2.2"/>
<line x1="2823.7" y1="3858.2" x2="2829.3" y2="3867.0" stroke="#111" stroke-width="2.2"/>
<line x1="2817.9" y1="3861.0" x2="2824.2" y2="3871.0" stroke="#111" stroke-width="2.2"/>
<line x1="2812.0" y1="3863.9" x2="2819.2" y2="3875.1" stroke="#111" stroke-width="2.2"/>
<text x="2718.4" y="3906.9" font-size="70" fill="#000"><tspan>HO</tspan></text>
<path d="M2986.9 3767.5 L2981.1 3689.1 L3066.4 3689.1 L3096.3 3712.2 L3056.0 3698.3 L2993.8 3698.3 Z" fill="#000"/>
<text x="3105.0" y="3757.0" font-size="70" fill="#000"><tspan>N-CH</tspan></text>
<text x="3277.9" y="3772.7" font-size="51" fill="#000"><tspan>3</tspan></text>
<line x1="2796.9" y1="524.5" x2="2861.4" y2="487.6" stroke="#111" stroke-width="2.5" stroke-linecap="butt"/>
<line x1="2861.4" y1="487.6" x2="2926.6" y2="524.5" stroke="#111" stroke-width="2.5" stroke-linecap="butt"/>
<line x1="2862.4" y1="498.0" x2="2917.2" y2="528.9" stroke="#111" stroke-width="2.5" stroke-linecap="butt"/>
<line x1="2926.6" y1="524.5" x2="2926.6" y2="600.6" stroke="#111" stroke-width="2.5" stroke-linecap="butt"/>
<line x1="2926.6" y1="600.6" x2="2861.4" y2="637.4" stroke="#111" stroke-width="2.5" stroke-linecap="butt"/>
<line x1="2917.2" y1="596.1" x2="2862.4" y2="627.0" stroke="#111" stroke-width="2.5" stroke-linecap="butt"/>
<line x1="2861.4" y1="637.4" x2="2796.9" y2="600.6" stroke="#111" stroke-width="2.5" stroke-linecap="butt"/>
<line x1="2796.9" y1="600.6" x2="2796.9" y2="524.5" stroke="#111" stroke-width="2.5" stroke-linecap="butt"/>
<line x1="2805.4" y1="594.6" x2="2805.4" y2="530.5" stroke="#111" stroke-width="2.5" stroke-linecap="butt"/>
<text x="2559.6" y="514.0" font-size="70" fill="#000"><tspan>H</tspan></text>
<text x="2611.4" y="528.5" font-size="51" fill="#000"><tspan>3</tspan></text>
<text x="2638.6" y="514.0" font-size="70" fill="#000"><tspan>C-O</tspan></text>
<line x1="2757.7" y1="502.6" x2="2796.9" y2="524.5" stroke="#111" stroke-width="2.5" stroke-linecap="butt"/>
<text x="2657.5" y="663.9" font-size="70" fill="#000"><tspan>OH</tspan></text>
<line x1="2796.9" y1="600.6" x2="2761.2" y2="620.1" stroke="#111" stroke-width="2.5" stroke-linecap="butt"/>
<line x1="2926.6" y1="524.5" x2="2992.0" y2="487.4" stroke="#111" stroke-width="2.5" stroke-linecap="butt"/>
<line x1="2992.0" y1="487.4" x2="3056.7" y2="524.6" stroke="#111" stroke-width="2.5" stroke-linecap="butt"/>
<line x1="3056.7" y1="524.6" x2="3056.7" y2="576.5" stroke="#111" stroke-width="2.5" stroke-linecap="butt"/>
<text x="3031.2" y="626.5" font-size="70" fill="#000"><tspan>N-CH</tspan></text>
<text x="3206.5" y="641.6" font-size="51" fill="#000"><tspan>3</tspan></text>
<line x1="2926.6" y1="600.6" x2="2992.0" y2="637.2" stroke="#111" stroke-width="2.5" stroke-linecap="butt"/>
<line x1="2992.0" y1="637.2" x2="3033.2" y2="614.7" stroke="#111" stroke-width="2.5" stroke-linecap="butt"/>
<path d="M2992.0 637.2 L3021.8 663.0 L3029.0 651.0 Z" fill="#000"/>
<text x="3033.2" y="701.9" font-size="70" fill="#000"><tspan>H</tspan></text>
<line x1="2992.0" y1="637.2" x2="2992.2" y2="713.0" stroke="#111" stroke-width="2.5" stroke-linecap="butt"/>
<line x1="2992.2" y1="713.0" x2="2927.4" y2="750.5" stroke="#111" stroke-width="2.5" stroke-linecap="butt"/>
<line x1="2927.4" y1="750.5" x2="2861.1" y2="713.0" stroke="#111" stroke-width="2.5" stroke-linecap="butt"/>
<line x1="2918.0" y1="754.9" x2="2862.1" y2="723.4" stroke="#111" stroke-width="2.5" stroke-linecap="butt"/>
<line x1="2861.1" y1="713.0" x2="2796.3" y2="750.5" stroke="#111" stroke-width="2.5" stroke-linecap="butt"/>
<line x1="2796.3" y1="750.5" x2="2796.3" y2="826.8" stroke="#111" stroke-width="2.5" stroke-linecap="butt"/>
<line x1="2804.8" y1="756.5" x2="2804.8" y2="820.8" stroke="#111" stroke-width="2.5" stroke-linecap="butt"/>
<line x1="2796.3" y1="826.8" x2="2861.1" y2="862.8" stroke="#111" stroke-width="2.5" stroke-linecap="butt"/>
<line x1="2861.1" y1="862.8" x2="2927.4" y2="826.8" stroke="#111" stroke-width="2.5" stroke-linecap="butt"/>
<line x1="2862.3" y1="852.5" x2="2918.1" y2="822.2" stroke="#111" stroke-width="2.5" stroke-linecap="butt"/>
<line x1="2927.4" y1="826.8" x2="2927.4" y2="750.5" stroke="#111" stroke-width="2.5" stroke-linecap="butt"/>
<text x="2656.6" y="740.4" font-size="70" fill="#000"><tspan>HO</tspan></text>
<line x1="2796.3" y1="750.5" x2="2757.5" y2="727.4" stroke="#111" stroke-width="2.5" stroke-linecap="butt"/>
<text x="2559.6" y="888.7" font-size="70" fill="#000"><tspan>H</tspan></text>
<text x="2610.6" y="904.1" font-size="51" fill="#000"><tspan>3</tspan></text>
<text x="2638.6" y="888.7" font-size="70" fill="#000"><tspan>C-O</tspan></text>
<line x1="2796.3" y1="826.8" x2="2754.6" y2="848.4" stroke="#111" stroke-width="2.5" stroke-linecap="butt"/>
</svg></body></html>
